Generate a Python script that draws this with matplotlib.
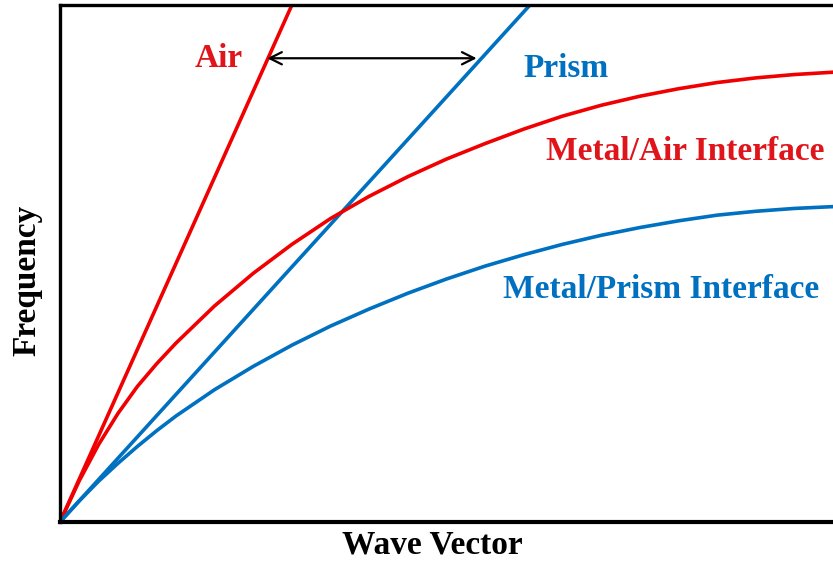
import matplotlib
matplotlib.use("Agg")
import matplotlib.pyplot as plt

# Light lines (start at origin, reach the top of the frame)
air_x = [0.0, 30.0]
air_y = [0.0, 100.0]
prism_x = [0.0, 60.8]
prism_y = [0.0, 100.0]

# Surface plasmon dispersion curves
metal_air_x = [0, 2.5, 5, 7.5, 10, 12.5, 15, 20, 25, 30, 35, 40, 45, 50, 55,
               60, 65, 70, 75, 80, 85, 90, 95, 100]
metal_air_y = [0, 8.0, 15.0, 21.0, 26.2, 30.6, 34.6, 41.8, 48.1, 53.7, 58.7,
               63.0, 66.8, 70.2, 73.2, 76.0, 78.5, 80.6, 82.35, 83.8, 85.0,
               85.9, 86.55, 87.0]

metal_prism_x = [0, 2.5, 5, 7.5, 10, 12.5, 15, 20, 25, 30, 35, 40, 45, 50,
                 55, 60, 65, 70, 75, 80, 85, 90, 95, 100]
metal_prism_y = [0, 4.1, 7.9, 11.35, 14.6, 17.65, 20.5, 25.6, 30.1, 34.2,
                 37.9, 41.2, 44.25, 47.0, 49.5, 51.7, 53.7, 55.45, 56.95,
                 58.25, 59.35, 60.1, 60.65, 61.0]

arrow_y = 89.7
arrow_x = [26.8, 53.9]

labels = ["Air", "Prism", "Metal/Air Interface", "Metal/Prism Interface"]
label_pos = [(20.5, 88.0), (65.5, 86.1), (80.9, 70.0), (77.8, 43.3)]
xlabel = "Wave Vector"
ylabel = "Frequency"

RED = "#F00000"
RED_T = "#E0151B"
BLUE = "#0070C0"

plt.rcParams['font.family'] = ['Liberation Serif', 'DejaVu Serif']

fig = plt.figure(figsize=(8.33, 5.69), dpi=100)
ax = fig.add_axes([60/833, 47/569, 773/833, 517/569])

lw = 2.6
ax.plot(air_x, air_y, color=RED, lw=lw, solid_capstyle='butt')
ax.plot(prism_x, prism_y, color=BLUE, lw=lw, solid_capstyle='butt')
ax.plot(metal_air_x, metal_air_y, color=RED, lw=lw, solid_joinstyle='round')
ax.plot(metal_prism_x, metal_prism_y, color=BLUE, lw=lw, solid_joinstyle='round')

ax.annotate("", xy=(arrow_x[0], arrow_y), xytext=(arrow_x[1], arrow_y),
            arrowprops=dict(arrowstyle='<->', color='black', lw=1.6,
                            mutation_scale=22, shrinkA=0, shrinkB=0))

colors = [RED_T, BLUE, RED_T, BLUE]
for lab, (x, y), c in zip(labels, label_pos, colors):
    ax.text(x, y, lab, color=c, fontsize=24, fontweight='bold',
            ha='center', va='baseline', clip_on=False)

ax.set_xlim(0, 100)
ax.set_ylim(0, 100)
ax.set_xticks([])
ax.set_yticks([])
ax.spines['right'].set_visible(False)
for s in ['left', 'top']:
    ax.spines[s].set_linewidth(2.4)
ax.spines['bottom'].set_linewidth(3.0)
for s in ['left', 'top', 'bottom']:
    ax.spines[s].set_color('black')

fig.text(432/833, (569-554)/569, xlabel, fontsize=24, fontweight='bold',
         ha='center', va='baseline')
fig.text(27/833, (569-280)/569, ylabel, fontsize=24, fontweight='bold',
         ha='center', va='center', rotation=90)

fig.savefig("out.png", dpi=100)
